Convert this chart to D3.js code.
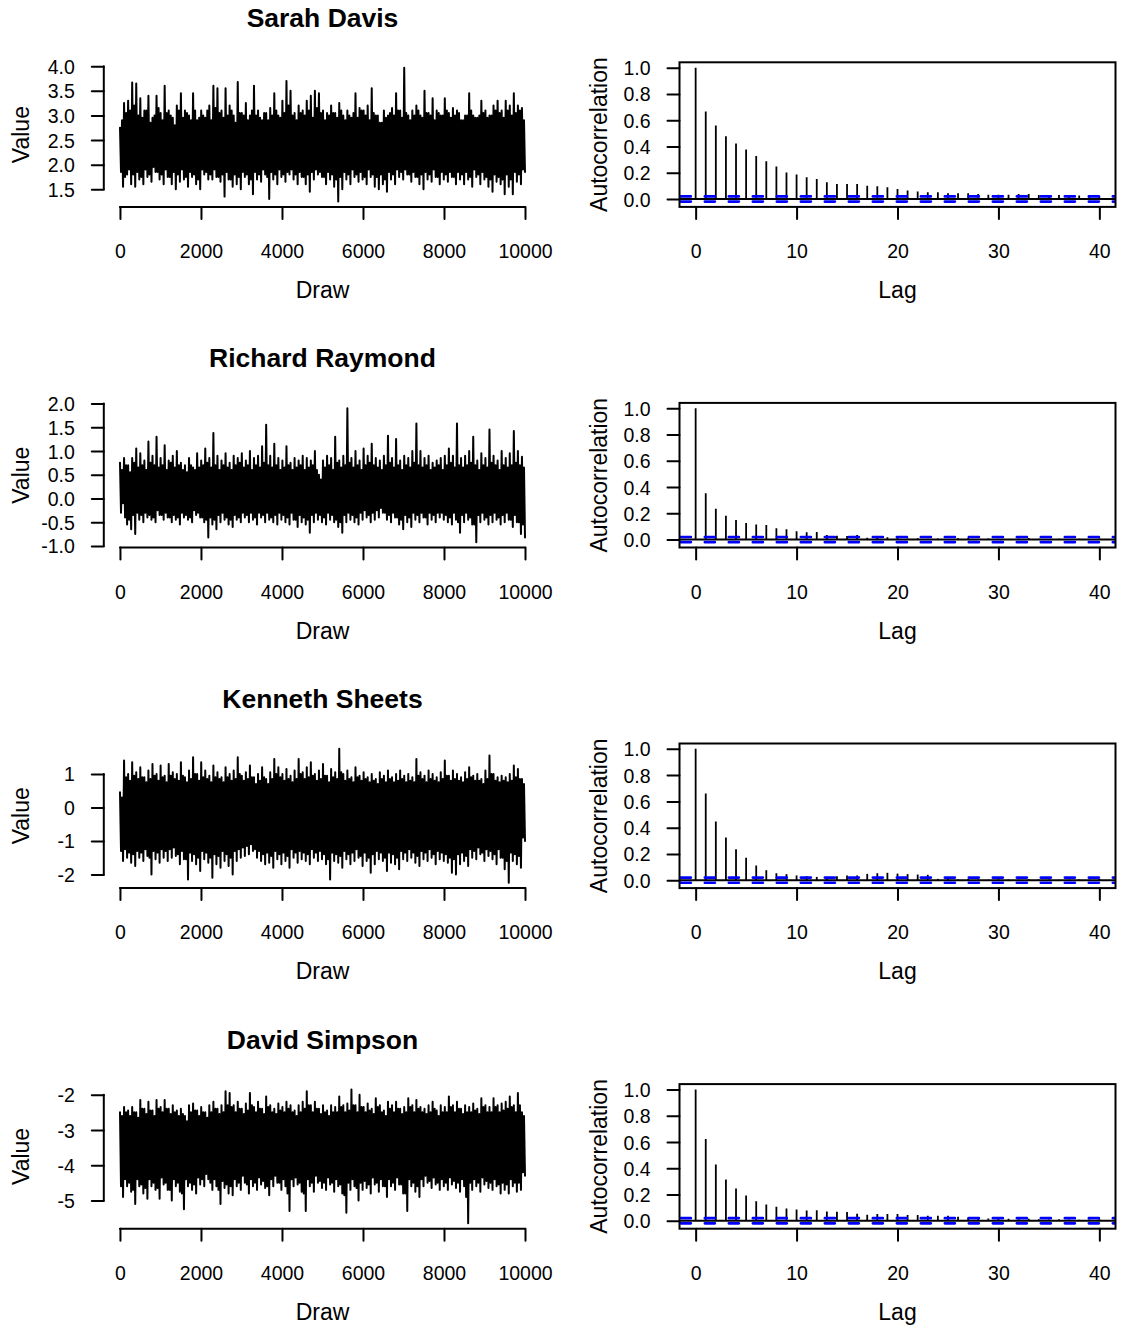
<!DOCTYPE html>
<html><head><meta charset="utf-8">
<script src="https://cdn.jsdelivr.net/npm/d3@7"></script>
<style>body{margin:0;background:#fff}</style>
</head><body><svg id="chart" width="1122" height="1329"></svg>
<script>
// ---------------- data ----------------
const chainNames = ["Sarah Davis", "Richard Raymond", "Kenneth Sheets", "David Simpson"];
const nDraws = 10000;

// Each chain in 100 successive slices of draws:
// the slice's high spike, a typical low and a typical high inside the band, and its low spike.
const sarahPeaks = [2.75,3.25,3.3,3.67,3.65,3.35,3.1,3.4,2.95,3.4,
  3.05,3.6,3.1,2.95,3.2,3.45,3.1,3.0,3.45,2.9,
  3.1,2.95,3.2,3.6,3.55,3.1,3.55,3.2,3.0,3.68,
  3.05,3.25,3.0,3.6,3.1,2.9,3.05,3.15,3.45,3.0,
  3.3,3.7,3.5,3.05,3.2,3.1,3.3,3.4,3.5,3.45,
  3.1,3.05,3.2,3.05,3.25,3.0,3.1,2.95,3.45,3.15,
  3.1,3.2,3.55,3.0,2.85,3.1,3.0,3.15,3.45,3.1,
  3.97,3.0,3.1,3.2,3.0,3.5,3.05,3.35,3.1,3.0,
  3.35,3.05,3.15,3.1,2.9,3.0,3.45,3.0,2.95,3.3,
  3.1,3.0,3.2,3.3,3.1,3.3,3.2,3.45,3.2,3.15];
const sarahBandLows = [1.85,1.75,1.9,1.8,1.85,1.75,1.9,1.8,1.95,1.85,
  1.8,1.9,1.75,1.85,1.8,1.9,1.75,1.85,1.8,1.7,
  1.9,1.85,1.8,1.9,1.75,1.8,1.85,1.7,1.8,1.75,
  1.85,1.8,1.7,1.85,1.8,1.9,1.75,1.85,1.8,1.9,
  1.8,1.85,1.9,1.8,1.85,1.75,1.8,1.85,1.9,1.85,
  1.75,1.85,1.8,1.7,1.75,1.85,1.8,1.9,1.8,1.85,
  1.75,1.9,1.8,1.75,1.8,1.7,1.85,1.8,1.9,1.85,
  1.9,1.8,1.85,1.75,1.8,1.85,1.8,1.9,1.75,1.85,
  1.8,1.85,1.75,1.85,1.8,1.85,1.75,1.9,1.8,1.85,
  1.75,1.7,1.8,1.75,1.7,1.8,1.7,1.85,1.8,1.9];
const sarahBandHighs = [2.9,3.05,3.1,3.2,3.0,2.95,3.1,2.85,3.0,3.15,
  2.9,3.05,3.0,2.8,3.1,2.95,3.05,2.9,3.1,2.95,
  3.0,3.1,2.9,3.15,3.05,2.95,3.0,3.1,2.85,3.05,
  3.0,2.9,3.1,3.0,2.95,3.05,2.9,3.0,3.1,2.95,
  3.05,3.2,3.0,2.9,3.05,3.0,3.1,2.95,3.15,3.05,
  2.9,3.0,3.05,2.95,3.1,2.9,3.0,3.05,2.95,3.1,
  3.0,2.9,3.05,3.0,2.85,2.95,3.05,3.0,3.1,2.95,
  3.05,2.9,3.0,3.1,2.95,3.05,3.0,2.9,3.05,3.0,
  3.1,2.95,3.0,3.05,2.9,3.0,3.1,2.95,3.0,3.05,
  2.95,3.0,3.1,3.05,2.95,3.1,3.0,3.05,3.1,2.9];
const sarahTroughs = [1.55,1.8,1.6,1.55,1.7,1.6,1.75,1.65,1.85,1.7,
  1.6,1.75,1.6,1.5,1.65,1.7,1.55,1.75,1.6,1.5,
  1.8,1.7,1.7,1.75,1.65,1.35,1.7,1.55,1.6,1.5,
  1.75,1.6,1.4,1.7,1.65,1.8,1.3,1.7,1.6,1.75,
  1.65,1.8,1.7,1.6,1.75,1.6,1.45,1.7,1.8,1.75,
  1.6,1.7,1.55,1.25,1.5,1.7,1.6,1.75,1.65,1.7,
  1.6,1.75,1.55,1.5,1.6,1.45,1.7,1.6,1.75,1.7,
  1.8,1.65,1.75,1.6,1.5,1.7,1.65,1.75,1.6,1.7,
  1.65,1.75,1.6,1.7,1.6,1.7,1.55,1.75,1.6,1.7,
  1.55,1.45,1.65,1.6,1.4,1.55,1.4,1.65,1.6,1.85];

const richardPeaks = [0.75,0.85,0.7,0.85,1.05,0.95,0.8,1.2,0.9,1.3,
  0.85,1.12,0.8,0.9,1.0,0.75,0.7,0.85,0.65,0.95,
  0.8,1.05,0.85,1.38,0.9,0.8,0.95,0.75,0.9,0.85,
  0.95,0.8,1.0,0.85,0.9,1.1,1.55,0.9,1.15,0.85,
  0.8,1.1,0.75,0.85,0.8,0.9,0.85,0.8,1.0,0.5,
  0.8,0.9,0.85,1.3,0.8,0.9,1.9,0.85,1.0,0.8,
  1.05,0.9,1.15,0.85,0.8,0.9,1.32,0.85,1.25,0.8,
  0.9,0.85,1.0,1.58,1.0,0.85,0.9,0.75,0.8,0.85,
  0.9,1.05,0.9,1.58,0.85,0.9,1.0,1.3,0.8,0.95,
  0.85,1.45,0.9,0.8,1.0,0.85,0.95,1.42,1.0,0.88];
const richardBandLows = [-0.3,-0.4,-0.45,-0.35,-0.3,-0.35,-0.3,-0.35,-0.4,-0.25,
  -0.35,-0.3,-0.4,-0.35,-0.4,-0.3,-0.35,-0.4,-0.25,-0.3,
  -0.4,-0.45,-0.4,-0.45,-0.35,-0.3,-0.4,-0.45,-0.35,-0.4,
  -0.3,-0.35,-0.3,-0.4,-0.3,-0.35,-0.3,-0.4,-0.35,-0.3,
  -0.35,-0.4,-0.3,-0.45,-0.35,-0.4,-0.45,-0.35,-0.3,-0.35,
  -0.4,-0.3,-0.35,-0.45,-0.5,-0.35,-0.3,-0.35,-0.4,-0.3,
  -0.25,-0.35,-0.3,-0.25,-0.2,-0.3,-0.35,-0.3,-0.4,-0.45,
  -0.35,-0.4,-0.3,-0.35,-0.3,-0.4,-0.3,-0.35,-0.3,-0.3,
  -0.35,-0.4,-0.3,-0.5,-0.35,-0.3,-0.4,-0.55,-0.35,-0.3,
  -0.4,-0.35,-0.3,-0.4,-0.35,-0.3,-0.45,-0.35,-0.5,-0.55];
const richardBandHighs = [0.6,0.7,0.55,0.75,0.65,0.7,0.6,0.75,0.7,0.65,
  0.7,0.6,0.75,0.65,0.7,0.6,0.55,0.7,0.6,0.65,
  0.7,0.75,0.65,0.7,0.6,0.7,0.65,0.6,0.7,0.75,
  0.65,0.7,0.6,0.7,0.65,0.75,0.7,0.65,0.7,0.6,
  0.65,0.7,0.6,0.65,0.7,0.6,0.65,0.7,0.6,0.4,
  0.65,0.7,0.6,0.75,0.65,0.7,0.75,0.65,0.7,0.6,
  0.7,0.75,0.7,0.65,0.6,0.7,0.75,0.65,0.7,0.6,
  0.7,0.65,0.75,0.7,0.65,0.7,0.6,0.65,0.7,0.6,
  0.7,0.75,0.65,0.7,0.65,0.7,0.75,0.7,0.6,0.7,
  0.65,0.75,0.7,0.6,0.7,0.65,0.7,0.75,0.7,0.65];
const richardTroughs = [-0.1,-0.55,-0.65,-0.75,-0.45,-0.5,-0.4,-0.45,-0.5,-0.35,
  -0.45,-0.4,-0.5,-0.45,-0.55,-0.4,-0.45,-0.5,-0.35,-0.4,
  -0.5,-0.82,-0.55,-0.65,-0.5,-0.45,-0.55,-0.6,-0.45,-0.5,
  -0.4,-0.5,-0.45,-0.55,-0.4,-0.5,-0.45,-0.5,-0.55,-0.45,
  -0.5,-0.55,-0.45,-0.6,-0.5,-0.55,-0.72,-0.5,-0.45,-0.5,
  -0.55,-0.45,-0.5,-0.6,-0.72,-0.5,-0.45,-0.5,-0.55,-0.45,
  -0.4,-0.5,-0.45,-0.4,-0.3,-0.45,-0.5,-0.4,-0.55,-0.65,
  -0.5,-0.6,-0.45,-0.5,-0.4,-0.55,-0.45,-0.5,-0.4,-0.45,
  -0.5,-0.55,-0.45,-0.72,-0.5,-0.45,-0.55,-0.92,-0.5,-0.45,
  -0.55,-0.5,-0.45,-0.55,-0.5,-0.45,-0.6,-0.5,-0.75,-0.82];

const kennethPeaks = [0.45,1.4,1.0,1.35,1.05,1.2,0.9,1.1,1.3,1.0,
  1.25,0.95,1.3,1.05,1.0,1.35,0.9,1.1,1.5,1.0,
  1.35,1.1,0.95,1.25,1.05,0.9,1.2,1.0,1.1,1.5,
  0.95,1.05,1.25,0.9,1.0,1.2,0.85,1.05,1.45,1.2,
  1.0,1.15,0.95,1.1,1.45,1.05,1.2,1.35,1.0,1.1,
  1.3,0.95,1.15,1.05,1.75,1.0,1.1,0.9,1.2,0.95,
  1.05,0.9,1.0,0.85,1.05,0.95,1.1,0.9,1.0,1.1,
  0.95,1.0,0.9,1.45,1.05,0.95,1.1,1.0,0.9,1.05,
  1.4,0.95,1.1,1.0,0.9,1.05,1.2,0.95,1.0,0.85,
  1.1,1.55,1.0,0.9,0.95,0.9,1.0,1.25,1.15,0.85];
const kennethBandLows = [-1.3,-1.25,-1.35,-1.4,-1.3,-1.35,-1.25,-1.5,-1.3,-1.35,
  -1.25,-1.3,-1.25,-1.2,-1.4,-1.3,-1.55,-1.35,-1.4,-1.5,
  -1.3,-1.35,-1.5,-1.4,-1.45,-1.3,-1.4,-1.5,-1.3,-1.25,
  -1.2,-1.15,-1.1,-1.25,-1.3,-1.4,-1.35,-1.45,-1.3,-1.4,
  -1.35,-1.45,-1.25,-1.35,-1.3,-1.35,-1.4,-1.25,-1.35,-1.3,
  -1.4,-1.55,-1.35,-1.4,-1.45,-1.3,-1.4,-1.35,-1.25,-1.45,
  -1.35,-1.5,-1.4,-1.3,-1.35,-1.5,-1.35,-1.4,-1.5,-1.3,
  -1.35,-1.25,-1.35,-1.45,-1.3,-1.35,-1.25,-1.4,-1.3,-1.35,
  -1.4,-1.5,-1.55,-1.4,-1.35,-1.45,-1.25,-1.3,-1.2,-1.35,
  -1.25,-1.3,-1.4,-1.25,-1.5,-1.6,-1.35,-1.4,-1.45,-0.9];
const kennethBandHighs = [0.3,0.9,0.8,0.95,0.85,0.9,0.75,0.85,0.95,0.8,
  0.9,0.75,0.95,0.85,0.8,0.95,0.75,0.85,1.0,0.8,
  0.9,0.85,0.75,0.9,0.85,0.75,0.9,0.8,0.85,1.0,
  0.8,0.85,0.9,0.7,0.8,0.9,0.7,0.85,1.0,0.9,
  0.8,0.85,0.75,0.85,1.0,0.85,0.9,0.95,0.8,0.85,
  0.95,0.75,0.9,0.85,1.05,0.8,0.85,0.75,0.9,0.8,
  0.85,0.75,0.8,0.7,0.85,0.75,0.85,0.75,0.8,0.85,
  0.75,0.8,0.75,0.95,0.85,0.75,0.85,0.8,0.75,0.85,
  0.95,0.8,0.85,0.8,0.75,0.85,0.9,0.8,0.8,0.7,
  0.85,1.0,0.8,0.75,0.8,0.75,0.8,0.9,0.85,0.7];
const kennethTroughs = [-1.6,-1.5,-1.65,-1.75,-1.5,-1.6,-1.45,-2.0,-1.55,-1.65,
  -1.5,-1.6,-1.5,-1.45,-1.7,-1.55,-2.15,-1.6,-1.7,-1.9,
  -1.55,-1.65,-2.1,-1.7,-1.8,-1.6,-1.75,-2.0,-1.6,-1.5,
  -1.45,-1.4,-1.3,-1.5,-1.6,-1.7,-1.65,-1.8,-1.55,-1.7,
  -1.6,-1.8,-1.5,-1.65,-1.55,-1.6,-1.7,-1.5,-1.6,-1.55,
  -1.7,-2.15,-1.6,-1.65,-1.8,-1.55,-1.7,-1.6,-1.5,-1.75,
  -1.6,-1.95,-1.7,-1.55,-1.6,-1.9,-1.65,-1.7,-1.85,-1.55,
  -1.6,-1.5,-1.65,-1.75,-1.55,-1.6,-1.5,-1.7,-1.55,-1.6,
  -1.65,-1.95,-2.0,-1.7,-1.6,-1.75,-1.5,-1.55,-1.4,-1.6,
  -1.45,-1.55,-1.7,-1.5,-1.85,-2.25,-1.6,-1.7,-1.8,-1.0];

const davidPeaks = [-2.5,-2.35,-2.45,-2.35,-2.5,-2.15,-2.4,-2.2,-2.45,-2.15,
  -2.35,-2.15,-2.4,-2.3,-2.45,-2.4,-2.6,-2.3,-2.25,-2.45,
  -2.35,-2.5,-2.3,-2.2,-2.4,-2.3,-1.9,-1.95,-2.3,-2.2,
  -2.4,-2.25,-1.95,-2.35,-2.2,-2.4,-2.05,-2.3,-2.4,-2.25,
  -2.35,-2.2,-2.3,-2.45,-2.3,-2.2,-1.9,-2.3,-2.2,-2.4,
  -2.3,-2.45,-2.3,-2.35,-2.05,-2.3,-2.25,-1.85,-2.3,-2.0,
  -2.35,-2.25,-2.4,-2.1,-2.3,-2.45,-2.2,-2.3,-2.2,-2.4,
  -2.35,-2.1,-2.3,-2.15,-2.35,-2.4,-2.3,-2.2,-2.45,-2.3,
  -2.35,-2.05,-2.3,-2.2,-2.4,-2.3,-2.35,-2.25,-2.4,-2.1,
  -2.3,-2.35,-2.1,-2.3,-2.25,-2.2,-2.05,-2.3,-1.95,-2.5];
const davidBandLows = [-4.6,-4.4,-4.5,-4.7,-4.4,-4.55,-4.65,-4.4,-4.5,-4.65,
  -4.35,-4.5,-4.7,-4.4,-4.5,-4.8,-4.4,-4.5,-4.55,-4.35,
  -4.4,-4.25,-4.5,-4.4,-4.7,-4.45,-4.55,-4.6,-4.4,-4.5,
  -4.3,-4.55,-4.4,-4.5,-4.35,-4.45,-4.6,-4.4,-4.3,-4.5,
  -4.4,-4.8,-4.4,-4.35,-4.5,-4.8,-4.4,-4.5,-4.3,-4.45,
  -4.5,-4.35,-4.5,-4.4,-4.55,-4.85,-4.5,-4.4,-4.65,-4.5,
  -4.45,-4.55,-4.35,-4.5,-4.4,-4.6,-4.4,-4.5,-4.35,-4.55,
  -4.8,-4.4,-4.5,-4.6,-4.4,-4.3,-4.45,-4.35,-4.5,-4.4,
  -4.5,-4.35,-4.45,-4.5,-4.4,-4.9,-4.5,-4.4,-4.5,-4.35,
  -4.45,-4.5,-4.4,-4.55,-4.5,-4.55,-4.4,-4.5,-4.5,-4.2];
const davidBandHighs = [-2.6,-2.5,-2.6,-2.5,-2.65,-2.4,-2.55,-2.45,-2.6,-2.4,
  -2.5,-2.4,-2.55,-2.5,-2.6,-2.55,-2.75,-2.5,-2.45,-2.6,
  -2.5,-2.65,-2.5,-2.4,-2.55,-2.5,-2.3,-2.35,-2.5,-2.4,
  -2.55,-2.45,-2.3,-2.5,-2.4,-2.55,-2.35,-2.5,-2.55,-2.45,
  -2.5,-2.4,-2.5,-2.6,-2.5,-2.4,-2.3,-2.5,-2.4,-2.55,
  -2.5,-2.6,-2.5,-2.5,-2.35,-2.5,-2.45,-2.3,-2.5,-2.35,
  -2.5,-2.45,-2.55,-2.35,-2.5,-2.6,-2.4,-2.5,-2.4,-2.55,
  -2.5,-2.35,-2.5,-2.4,-2.5,-2.55,-2.5,-2.4,-2.6,-2.5,
  -2.5,-2.35,-2.5,-2.4,-2.55,-2.5,-2.5,-2.45,-2.55,-2.35,
  -2.5,-2.5,-2.35,-2.5,-2.45,-2.4,-2.35,-2.5,-2.3,-2.6];
const davidTroughs = [-4.9,-4.6,-4.75,-5.1,-4.6,-4.8,-4.95,-4.6,-4.7,-4.95,
  -4.55,-4.7,-5.0,-4.6,-4.75,-5.25,-4.6,-4.7,-4.8,-4.55,
  -4.6,-4.4,-4.7,-4.6,-5.1,-4.65,-4.8,-4.85,-4.6,-4.7,
  -4.5,-4.8,-4.6,-4.7,-4.55,-4.65,-4.85,-4.6,-4.5,-4.7,
  -4.6,-5.3,-4.6,-4.55,-4.75,-5.3,-4.6,-4.75,-4.5,-4.65,
  -4.7,-4.55,-4.75,-4.6,-4.8,-5.35,-4.7,-4.6,-5.0,-4.7,
  -4.65,-4.8,-4.55,-4.75,-4.6,-4.9,-4.6,-4.7,-4.55,-4.8,
  -5.3,-4.6,-4.75,-4.9,-4.6,-4.5,-4.65,-4.55,-4.7,-4.6,
  -4.7,-4.55,-4.65,-4.75,-4.6,-5.65,-4.7,-4.6,-4.75,-4.55,
  -4.65,-4.7,-4.6,-4.8,-4.7,-4.8,-4.6,-4.75,-4.7,-4.3];

// autocorrelation at lags 0..40
const acfSarah   = [1,0.667,0.56,0.478,0.422,0.377,0.328,0.288,0.247,0.201,0.186,0.165,0.153,0.127,0.114,0.114,0.114,0.1,0.097,0.089,0.076,0.064,0.056,0.051,0.051,0.043,0.043,0.043,0.038,0.033,0.033,0.033,0.038,0.038,0.031,0.031,0.031,0.031,0.026,0.026,0.018];
const acfRichard = [1,0.352,0.235,0.182,0.149,0.127,0.114,0.111,0.086,0.078,0.063,0.056,0.058,0.035,0.03,0.028,0.035,0.013,0.013,0.018,0.013,0.008,0.01,0.006,0.008,0.005,0.01,0.012,0.005,0.008,0.006,0.004,0.008,0.012,0.006,0.004,0.006,0.003,0.006,0.004,0.008];
const acfKenneth = [1,0.66,0.447,0.325,0.236,0.17,0.112,0.076,0.053,0.046,0.036,0.03,0.025,0.025,0.03,0.036,0.036,0.048,0.053,0.056,0.05,0.046,0.043,0.041,0.01,0.008,0.006,0.01,0.005,0.004,0.006,0.005,0.004,0.008,0.005,0.006,0.004,0.003,0.005,0.004,0.01];
const acfDavid   = [1,0.623,0.428,0.314,0.246,0.192,0.149,0.124,0.106,0.094,0.086,0.078,0.081,0.071,0.068,0.066,0.053,0.046,0.051,0.051,0.051,0.043,0.043,0.038,0.038,0.038,0.03,0.025,0.02,0.018,0.015,0.015,0.012,0.015,0.012,0.01,0.012,0.01,0.008,0.01,0.012];
const ciBound = 0.0196;

// tick labels
const drawTicks = [0, 2000, 4000, 6000, 8000, 10000];
const lagTicks = [0, 10, 20, 30, 40];
const acfTicks = [0.0, 0.2, 0.4, 0.6, 0.8, 1.0];
const sarahTicks = [1.5, 2.0, 2.5, 3.0, 3.5, 4.0];
const richardTicks = [-1.0, -0.5, 0.0, 0.5, 1.0, 1.5, 2.0];
const kennethTicks = [-2, -1, 0, 1];
const davidTicks = [-5, -4, -3, -2];
const valueDecimals = [1, 1, 0, 0];

const peakSets = [sarahPeaks, richardPeaks, kennethPeaks, davidPeaks];
const bandLowSets = [sarahBandLows, richardBandLows, kennethBandLows, davidBandLows];
const bandHighSets = [sarahBandHighs, richardBandHighs, kennethBandHighs, davidBandHighs];
const troughSets = [sarahTroughs, richardTroughs, kennethTroughs, davidTroughs];
const acfSets = [acfSarah, acfRichard, acfKenneth, acfDavid];
const valueTickSets = [sarahTicks, richardTicks, kennethTicks, davidTicks];

// ---------------- layout ----------------
const FONT = "'Liberation Sans', Arial, Helvetica, sans-serif";
const traceL = 103.8, traceR = 541.2, acfL = 679.5, acfR = 1115.5;
const top0 = 62.3, rowStep = 340.6, panelH = 144.6;
const tickLen = 12, tickFont = 19.5, labFont = 23, titleFont = 26.5;

const svg = d3.select("#chart");
svg.append("rect").attr("width", 1122).attr("height", 1329).attr("fill", "#fff");

function fmt(d, dec) { return d.toFixed(dec); }

function styleAxis(g) {
  g.selectAll("line").attr("stroke", "#000").attr("stroke-width", 2).attr("stroke-linecap", "round");
  g.selectAll(".domain").attr("stroke", "#000").attr("stroke-width", 2).attr("stroke-linecap", "round").attr("fill", "none");
  g.selectAll("text").attr("font-family", FONT).attr("font-size", tickFont).attr("fill", "#000");
  g.attr("font-family", null).attr("font-size", null);
}

chainNames.forEach((name, r) => {
  const top = top0 + r * rowStep, bottom = top + panelH;

  // ----- trace plot -----
  const peaks = peakSets[r], troughs = troughSets[r], bl = bandLowSets[r], bh = bandHighSets[r];
  const series = [];
  peaks.forEach((p, k) => {
    series.push(p);
    if (bl[k] != null) series.push(bl[k]);
    if (bh[k] != null) series.push(bh[k]);
    if (troughs[k] != null) series.push(troughs[k]);
  });
  const pts = series.map((v, i) => ({ draw: 1 + i * (nDraws - 1) / (series.length - 1), value: v }));

  const xpad = (nDraws - 1) * 0.04;
  const x = d3.scaleLinear().domain([1 - xpad, nDraws + xpad]).range([traceL, traceR]);
  const ext = d3.extent(series);
  const ypad = (ext[1] - ext[0]) * 0.04;
  const y = d3.scaleLinear().domain([ext[0] - ypad, ext[1] + ypad]).range([bottom, top]);

  const g = svg.append("g");
  g.append("path").datum(pts)
    .attr("d", d3.line().x(d => x(d.draw)).y(d => y(d.value)))
    .attr("fill", "none").attr("stroke", "#000").attr("stroke-width", 2)
    .attr("stroke-linejoin", "round").attr("stroke-linecap", "round");

  const vt = valueTickSets[r];
  const ya = g.append("g").attr("transform", `translate(${traceL},0)`)
    .call(d3.axisLeft(y).tickValues(vt).tickSize(tickLen).tickSizeOuter(0).tickFormat(d => fmt(d, valueDecimals[r])));
  ya.select(".domain").attr("d", `M0,${y(vt[0])}V${y(vt[vt.length - 1])}`);
  styleAxis(ya);
  ya.selectAll("text").attr("x", -29).attr("dy", "0.36em").attr("text-anchor", "end");

  const xa = g.append("g").attr("transform", `translate(0,${bottom})`)
    .call(d3.axisBottom(x).tickValues(drawTicks).tickSize(tickLen).tickSizeOuter(0).tickFormat(d => String(d)));
  xa.select(".domain").attr("d", `M${x(drawTicks[0])},0H${x(drawTicks[drawTicks.length - 1])}`);
  styleAxis(xa);
  xa.selectAll("text").attr("y", 51).attr("dy", 0);

  g.append("text").text(name)
    .attr("x", (traceL + traceR) / 2).attr("y", top - 35.6)
    .attr("text-anchor", "middle").attr("font-family", FONT).attr("font-weight", "bold").attr("font-size", titleFont);
  g.append("text").text("Draw")
    .attr("x", (traceL + traceR) / 2).attr("y", bottom + 91)
    .attr("text-anchor", "middle").attr("font-family", FONT).attr("font-size", labFont);
  g.append("text").text("Value")
    .attr("transform", `translate(${traceL - 75},${(top + bottom) / 2}) rotate(-90)`)
    .attr("text-anchor", "middle").attr("font-family", FONT).attr("font-size", labFont);

  // ----- ACF plot -----
  const acf = acfSets[r];
  const maxLag = acf.length - 1;
  const lx = d3.scaleLinear().domain([-maxLag * 0.04, maxLag * 1.04]).range([acfL, acfR]);
  const lo = Math.min(d3.min(acf), -ciBound), hi = Math.max(d3.max(acf), ciBound);
  const apad = (hi - lo) * 0.04;
  const ay = d3.scaleLinear().domain([lo - apad, hi + apad]).range([bottom, top]);

  const ga = svg.append("g");
  const clipId = "clip" + r;
  ga.append("clipPath").attr("id", clipId).append("rect")
    .attr("x", acfL).attr("y", top).attr("width", acfR - acfL).attr("height", panelH);

  const inner = ga.append("g").attr("clip-path", `url(#${clipId})`);
  inner.selectAll("line.bar").data(acf).join("line").attr("class", "bar")
    .attr("x1", (d, i) => lx(i)).attr("x2", (d, i) => lx(i))
    .attr("y1", ay(0)).attr("y2", d => ay(d))
    .attr("stroke", "#000").attr("stroke-width", 1.8);
  inner.append("line")
    .attr("x1", acfL).attr("x2", acfR).attr("y1", ay(0)).attr("y2", ay(0))
    .attr("stroke", "#000").attr("stroke-width", 2);
  inner.selectAll("line.ci").data([ciBound, -ciBound]).join("line").attr("class", "ci")
    .attr("x1", acfL).attr("x2", acfR).attr("y1", d => ay(d)).attr("y2", d => ay(d))
    .attr("stroke", "#0000ff").attr("stroke-width", 2.7)
    .attr("stroke-dasharray", "10,14").attr("stroke-dashoffset", -1.35).attr("stroke-linecap", "round");

  ga.append("rect").attr("x", acfL).attr("y", top).attr("width", acfR - acfL).attr("height", panelH)
    .attr("fill", "none").attr("stroke", "#000").attr("stroke-width", 2);

  const aya = ga.append("g").attr("transform", `translate(${acfL},0)`)
    .call(d3.axisLeft(ay).tickValues(acfTicks).tickSize(tickLen).tickSizeOuter(0).tickFormat(d => d.toFixed(1)));
  aya.select(".domain").remove();
  styleAxis(aya);
  aya.selectAll("text").attr("x", -29).attr("dy", "0.36em").attr("text-anchor", "end");

  const axa = ga.append("g").attr("transform", `translate(0,${bottom})`)
    .call(d3.axisBottom(lx).tickValues(lagTicks).tickSize(tickLen).tickSizeOuter(0).tickFormat(d => String(d)));
  axa.select(".domain").remove();
  styleAxis(axa);
  axa.selectAll("text").attr("y", 51).attr("dy", 0);

  ga.append("text").text("Lag")
    .attr("x", (acfL + acfR) / 2).attr("y", bottom + 91)
    .attr("text-anchor", "middle").attr("font-family", FONT).attr("font-size", labFont);
  ga.append("text").text("Autocorrelation")
    .attr("transform", `translate(${acfL - 73},${(top + bottom) / 2}) rotate(-90)`)
    .attr("text-anchor", "middle").attr("font-family", FONT).attr("font-size", labFont);
});
</script></body></html>
